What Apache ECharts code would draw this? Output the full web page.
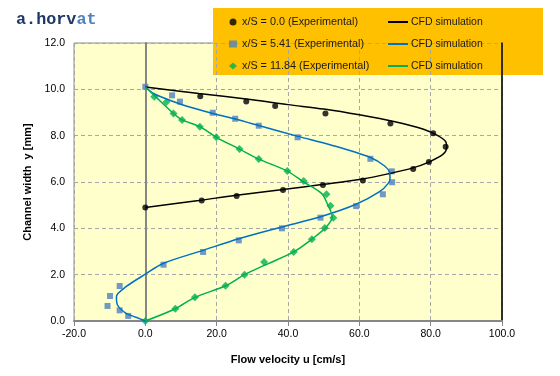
<!DOCTYPE html>
<html>
<head>
<meta charset="utf-8">
<script src="https://cdn.jsdelivr.net/npm/echarts@6/dist/echarts.min.js"></script>
<style>
  html, body { margin: 0; padding: 0; background: #fff; }
  #chart { width: 560px; height: 376px; }
</style>
</head>
<body>
<div id="chart"></div>
<script>
// measured points (u in cm/s, y in mm)
const expU0 = [0, 15.8, 25.6, 38.6, 49.8, 61.0, 75.1, 79.5, 84.2, 80.7, 68.7, 50.5, 36.4, 28.3, 15.4];
const expY0 = [4.9, 5.2, 5.4, 5.65, 5.87, 6.07, 6.56, 6.86, 7.52, 8.10, 8.52, 8.96, 9.28, 9.48, 9.70];

const expU1 = [0, 7.5, 9.7, 18.9, 25.2, 31.8, 42.7, 63.1, 69.1, 69.2, 66.6, 59.1, 49.1, 38.3, 26.2, 16.2, 5.1, -7.2, -9.9, -10.6, -7.2, -4.8];
const expY1 = [10.11, 9.74, 9.47, 8.99, 8.73, 8.43, 7.93, 7.00, 6.46, 5.99, 5.47, 4.96, 4.46, 4.00, 3.48, 2.98, 2.43, 1.51, 1.08, 0.65, 0.46, 0.22];

const expU2 = [2.5, 5.9, 7.9, 10.3, 15.3, 19.9, 26.4, 31.8, 39.8, 44.4, 50.8, 51.9, 52.7, 50.3, 46.7, 41.6, 33.3, 27.8, 22.5, 13.9, 8.4, 0];
const expY2 = [9.68, 9.45, 8.96, 8.68, 8.39, 7.93, 7.42, 6.99, 6.47, 6.04, 5.47, 4.98, 4.46, 4.01, 3.53, 2.98, 2.55, 2.0, 1.52, 1.02, 0.53, 0.0];

// CFD profiles
const cfdU0 = [0, 15, 30, 40, 50, 60, 70, 78, 82, 84.2, 84.5, 83.5, 79.5, 75, 68, 61, 50, 38.6, 25, 15, 0];
const cfdY0 = [10.1, 9.82, 9.55, 9.34, 9.15, 8.9, 8.6, 8.28, 8.0, 7.75, 7.5, 7.2, 6.86, 6.61, 6.35, 6.13, 5.9, 5.68, 5.42, 5.2, 4.9];

const cfdU1 = [0, 2, 4, 9.7, 18.9, 25.2, 31.8, 42.8, 52, 63.1, 67, 68.5, 68.6, 68.1, 65.7, 59.1, 49.1, 38.3, 26.2, 16.2, 5.1, 0, -5.4, -8.1, -7.8, -5.4, -2.6, 0];
const cfdY1 = [10.1, 9.85, 9.7, 9.37, 8.96, 8.72, 8.44, 7.97, 7.6, 7.06, 6.7, 6.4, 6.15, 5.94, 5.58, 5.04, 4.5, 4.06, 3.55, 3.05, 2.49, 2.02, 1.48, 1.05, 0.69, 0.33, 0.16, 0];

const cfdU2 = [0, 2.5, 7.9, 10.3, 15.3, 19.9, 26.4, 31.8, 39.8, 44.4, 49.4, 51.2, 52.4, 50.8, 47, 41.6, 33.3, 27.8, 22.5, 13.9, 8.4, 0];
const cfdY2 = [10.1, 9.74, 8.96, 8.68, 8.39, 7.93, 7.42, 6.99, 6.47, 6.0, 5.51, 5.0, 4.5, 4.07, 3.57, 2.98, 2.4, 2.0, 1.52, 1.02, 0.53, 0];

const expNames = ['x/S = 0.0 (Experimental)', 'x/S = 5.41 (Experimental)', 'x/S = 11.84 (Experimental)'];
// trailing spaces keep the three legend entries apart
const cfdNames = ['CFD simulation', 'CFD simulation ', 'CFD simulation  '];

const xTicks = { min: -20, max: 100, step: 20 };
const yTicks = { min: 0, max: 12, step: 2 };

function zip(a, b) {
    return a.map((v, i) => [v, b[i]]);
}

const labelFont = 'Liberation Sans';
const gridLine = { type: [4, 3], color: '#a6a6a6', width: 1 };

let myChart = echarts.init(document.getElementById('chart'));
let option = {
    animation: false,
    backgroundColor: '#ffffff',
    title: {
        text: '{a|a.horv}{b|at}',
        left: 16,
        top: 11,
        padding: 0,
        textStyle: {
            rich: {
                a: { fontFamily: 'Liberation Mono', fontWeight: 'bold', fontSize: 16.8, color: '#1f3864' },
                b: { fontFamily: 'Liberation Mono', fontWeight: 'bold', fontSize: 16.8, color: '#4f81bd' }
            }
        }
    },
    graphic: [{
        type: 'rect',
        shape: { x: 213, y: 8, width: 330, height: 67 },
        style: { fill: '#ffc000' },
        z: 0
    }],
    legend: [{
        data: expNames,
        orient: 'vertical',
        left: 229,
        top: 15,
        padding: 0,
        itemWidth: 8,
        itemHeight: 7,
        itemGap: 8,
        z: 10,
        textStyle: { fontFamily: labelFont, fontSize: 10.8, color: '#1a1a1a', lineHeight: 14 }
    }, {
        data: cfdNames,
        orient: 'vertical',
        left: 387,
        top: 15,
        padding: 0,
        itemWidth: 20,
        itemHeight: 7,
        itemGap: 8,
        itemStyle: { opacity: 0 },
        z: 10,
        textStyle: { fontFamily: labelFont, fontSize: 10.5, color: '#1a1a1a', lineHeight: 14, padding: [0, 0, 0, -2] }
    }],
    grid: {
        left: 74,
        right: 58,
        top: 43,
        bottom: 55,
        outerBoundsMode: 'none',
        show: true,
        backgroundColor: '#ffffcc',
        borderColor: '#8c8c8c',
        borderWidth: 1
    },
    xAxis: {
        type: 'value',
        min: xTicks.min,
        max: xTicks.max,
        interval: xTicks.step,
        name: 'Flow velocity u [cm/s]',
        nameLocation: 'middle',
        nameGap: 33,
        nameTextStyle: { fontFamily: labelFont, fontWeight: 'bold', fontSize: 11, color: '#000' },
        axisLine: { onZero: false, lineStyle: { color: '#868686', width: 2 } },
        axisTick: { show: true, length: 5, lineStyle: { color: '#868686' } },
        axisLabel: {
            margin: 8,
            fontFamily: labelFont,
            fontSize: 10.5,
            color: '#000',
            formatter: v => v.toFixed(1)
        },
        splitLine: { show: true, lineStyle: gridLine }
    },
    yAxis: [{
        type: 'value',
        min: yTicks.min,
        max: yTicks.max,
        interval: yTicks.step,
        name: 'Channel width  y [mm]',
        nameLocation: 'middle',
        nameGap: 35,
        nameTextStyle: { fontFamily: labelFont, fontWeight: 'bold', fontSize: 11, color: '#000' },
        axisLine: { onZero: true, lineStyle: { color: '#868686', width: 2 } },
        axisTick: { show: false },
        axisLabel: {
            margin: 9,
            fontFamily: labelFont,
            fontSize: 10.5,
            color: '#000',
            formatter: v => v.toFixed(1)
        },
        splitLine: { show: true, lineStyle: gridLine }
    }, {
        type: 'value',
        position: 'right',
        min: yTicks.min,
        max: yTicks.max,
        interval: yTicks.step,
        axisLine: { show: true, onZero: false, lineStyle: { color: '#000', width: 1.5 } },
        axisTick: { show: false },
        axisLabel: { show: false },
        splitLine: { show: false }
    }],
    series: [{
        name: cfdNames[0],
        type: 'line',
        data: zip(cfdU0, cfdY0),
        symbol: 'none',
        smooth: 0.3,
        lineStyle: { color: '#000000', width: 1.5 },
        itemStyle: { color: '#000000' }
    }, {
        name: cfdNames[1],
        type: 'line',
        data: zip(cfdU1, cfdY1),
        symbol: 'none',
        smooth: 0.3,
        lineStyle: { color: '#0070c0', width: 1.5 },
        itemStyle: { color: '#0070c0' }
    }, {
        name: cfdNames[2],
        type: 'line',
        data: zip(cfdU2, cfdY2),
        symbol: 'none',
        smooth: 0.3,
        lineStyle: { color: '#00b050', width: 1.5 },
        itemStyle: { color: '#00b050' }
    }, {
        name: expNames[0],
        type: 'scatter',
        data: zip(expU0, expY0),
        symbol: 'circle',
        symbolSize: 6,
        itemStyle: { color: '#000000' }
    }, {
        name: expNames[1],
        type: 'scatter',
        data: zip(expU1, expY1),
        symbol: 'rect',
        symbolSize: 6,
        itemStyle: { color: '#4f81bd' }
    }, {
        name: expNames[2],
        type: 'scatter',
        data: zip(expU2, expY2),
        symbol: 'diamond',
        symbolSize: 8,
        itemStyle: { color: '#00b050' }
    }]
};
myChart.setOption(option, true);
</script>
</body>
</html>
